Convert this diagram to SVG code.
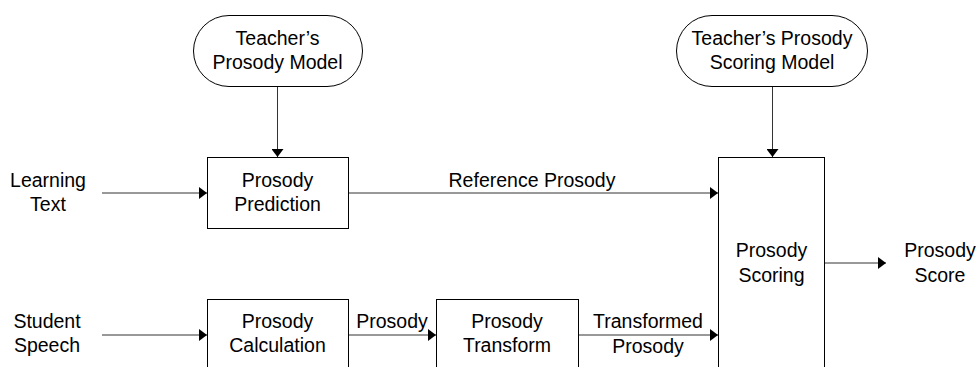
<svg xmlns="http://www.w3.org/2000/svg" width="978" height="367" viewBox="0 0 978 367">
<style>
text{font-family:"Liberation Sans",Arial,sans-serif;font-size:19.5px;fill:#000;text-anchor:middle}
.box{fill:#fff;stroke:#000;stroke-width:1}
.ln{fill:none;stroke:#333;stroke-width:1}
</style>
<defs>
<marker id="ah" markerUnits="userSpaceOnUse" markerWidth="9" markerHeight="12" refX="8" refY="6" orient="auto">
<path d="M0,0 L8,6 L0,12 Z" fill="#000"/>
</marker>
</defs>
<rect width="978" height="367" fill="#fff"/>
<g id="connectors">
<path class="ln" d="M277.5,86 V157" marker-end="url(#ah)"/>
<path class="ln" d="M772.5,86 V157" marker-end="url(#ah)"/>
<path class="ln" d="M102,193 H207" marker-end="url(#ah)"/>
<path class="ln" d="M348,193 H718" marker-end="url(#ah)"/>
<path class="ln" d="M102,335 H207" marker-end="url(#ah)"/>
<path class="ln" d="M348,335 H436" marker-end="url(#ah)"/>
<path class="ln" d="M578,335 H718" marker-end="url(#ah)"/>
<path class="ln" d="M824,263 H886" marker-end="url(#ah)"/>
<text x="532" y="187">Reference Prosody</text>
<text x="392" y="328">Prosody</text>
<text x="648" y="328">Transformed</text>
<text x="648" y="353">Prosody</text>
</g>
<g id="teacher-prosody-model">
<rect class="box" x="193.5" y="15.5" width="169" height="71" rx="35.5" ry="35.5"/>
<text x="277.5" y="45">Teacher’s</text>
<text x="277.5" y="69">Prosody Model</text>
</g>
<g id="teacher-scoring-model">
<rect class="box" x="676.5" y="15.5" width="191" height="71" rx="35.5" ry="35.5"/>
<text x="772" y="45">Teacher’s Prosody</text>
<text x="772" y="69">Scoring Model</text>
</g>
<g id="learning-text">
<text x="48" y="187">Learning</text>
<text x="48" y="211">Text</text>
</g>
<g id="student-speech">
<text x="47" y="328">Student</text>
<text x="47" y="352">Speech</text>
</g>
<g id="prosody-prediction">
<rect class="box" x="207.5" y="157.5" width="141" height="71"/>
<text x="277.5" y="187">Prosody</text>
<text x="277.5" y="211">Prediction</text>
</g>
<g id="prosody-calculation">
<rect class="box" x="207.5" y="299.5" width="141" height="80"/>
<text x="277.5" y="328">Prosody</text>
<text x="277.5" y="352">Calculation</text>
</g>
<g id="prosody-transform">
<rect class="box" x="436.5" y="299.5" width="142" height="80"/>
<text x="507" y="328">Prosody</text>
<text x="507" y="352">Transform</text>
</g>
<g id="prosody-scoring">
<rect class="box" x="718.5" y="157.5" width="106" height="222"/>
<text x="771.5" y="257">Prosody</text>
<text x="771.5" y="282">Scoring</text>
</g>
<g id="prosody-score">
<text x="940" y="257">Prosody</text>
<text x="940" y="282">Score</text>
</g>
</svg>
